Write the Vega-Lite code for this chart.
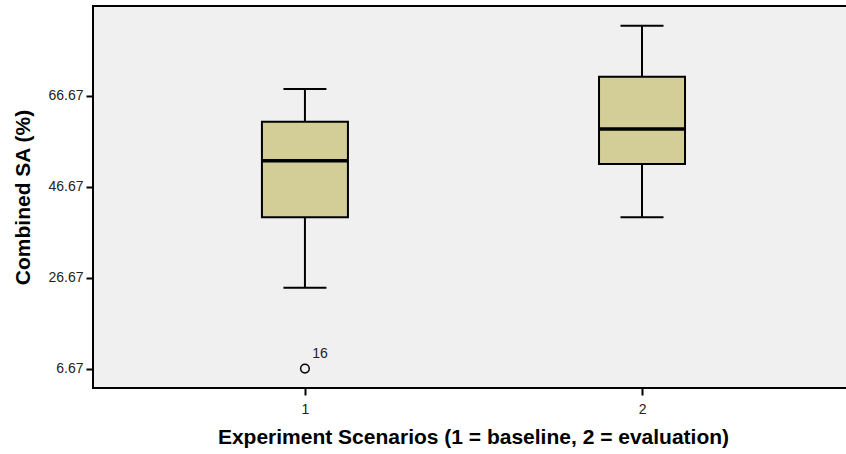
{
  "$schema": "https://vega.github.io/schema/vega-lite/v6.json",
  "width": 756,
  "height": 382,
  "autosize": {"type": "none"},
  "padding": {"left": 93, "top": 6, "right": 0, "bottom": 66},
  "background": "white",
  "config": {
    "view": {"fill": "#f0f0f0", "stroke": "black", "strokeWidth": 2},
    "font": "Liberation Sans",
    "axis": {"grid": false, "domain": false, "tickColor": "black", "tickWidth": 2, "tickSize": 7,
      "labelColor": "#222222", "labelFontSize": 14, "labelFont": "Liberation Sans",
      "titleFont": "Liberation Sans", "titleFontSize": 21, "titleFontWeight": "bold", "titleColor": "black"}
  },
  "datasets": {
    "summary": [
      {"scenario": 1, "lower": 24.5, "q1": 40.0, "median": 52.45, "q3": 61.0, "upper": 68.2},
      {"scenario": 2, "lower": 40.0, "q1": 51.7, "median": 59.4, "q3": 70.9, "upper": 82.1}
    ],
    "outliers": [
      {"scenario": 1, "value": 6.75, "case": "16"}
    ]
  },
  "encoding": {
    "x": {"field": "scenario", "type": "quantitative",
      "scale": {"domain": [0.3861, 2.5992], "nice": false, "zero": false},
      "axis": {"values": [1, 2], "format": "d", "title": "Experiment Scenarios (1 = baseline, 2 = evaluation)",
        "labelPadding": 7, "titlePadding": 10, "titleX": 380}}
  },
  "layer": [
    {
      "data": {"name": "summary"},
      "mark": {"type": "rule", "color": "black", "strokeWidth": 2},
      "encoding": {
        "y": {"field": "lower", "type": "quantitative",
          "scale": {"domain": [2.49, 86.45], "nice": false, "zero": false},
          "axis": {"values": [6.67, 26.67, 46.67, 66.67], "format": ".2f", "title": "Combined SA (%)", "titlePadding": 14, "labelPadding": 3}},
        "y2": {"field": "upper"}
      }
    },
    {
      "data": {"name": "summary"},
      "mark": {"type": "bar", "size": 86, "fill": "#d3ce98", "stroke": "black", "strokeWidth": 2},
      "encoding": {
        "y": {"field": "q1", "type": "quantitative"},
        "y2": {"field": "q3"}
      }
    },
    {
      "data": {"name": "summary"},
      "mark": {"type": "tick", "orient": "horizontal", "size": 86, "thickness": 3.5, "color": "black", "opacity": 1},
      "encoding": {"y": {"field": "median", "type": "quantitative"}}
    },
    {
      "data": {"name": "summary"},
      "mark": {"type": "tick", "orient": "horizontal", "size": 43, "thickness": 2, "color": "black", "opacity": 1},
      "encoding": {"y": {"field": "upper", "type": "quantitative"}}
    },
    {
      "data": {"name": "summary"},
      "mark": {"type": "tick", "orient": "horizontal", "size": 43, "thickness": 2, "color": "black", "opacity": 1},
      "encoding": {"y": {"field": "lower", "type": "quantitative"}}
    },
    {
      "data": {"name": "outliers"},
      "mark": {"type": "point", "shape": "circle", "size": 75, "filled": false, "stroke": "black", "strokeWidth": 1.5, "opacity": 1},
      "encoding": {"y": {"field": "value", "type": "quantitative"}}
    },
    {
      "data": {"name": "outliers"},
      "mark": {"type": "text", "dx": 15, "dy": -15, "fontSize": 14, "color": "#222222", "align": "center", "baseline": "middle"},
      "encoding": {"y": {"field": "value", "type": "quantitative"}, "text": {"field": "case"}}
    }
  ]
}
